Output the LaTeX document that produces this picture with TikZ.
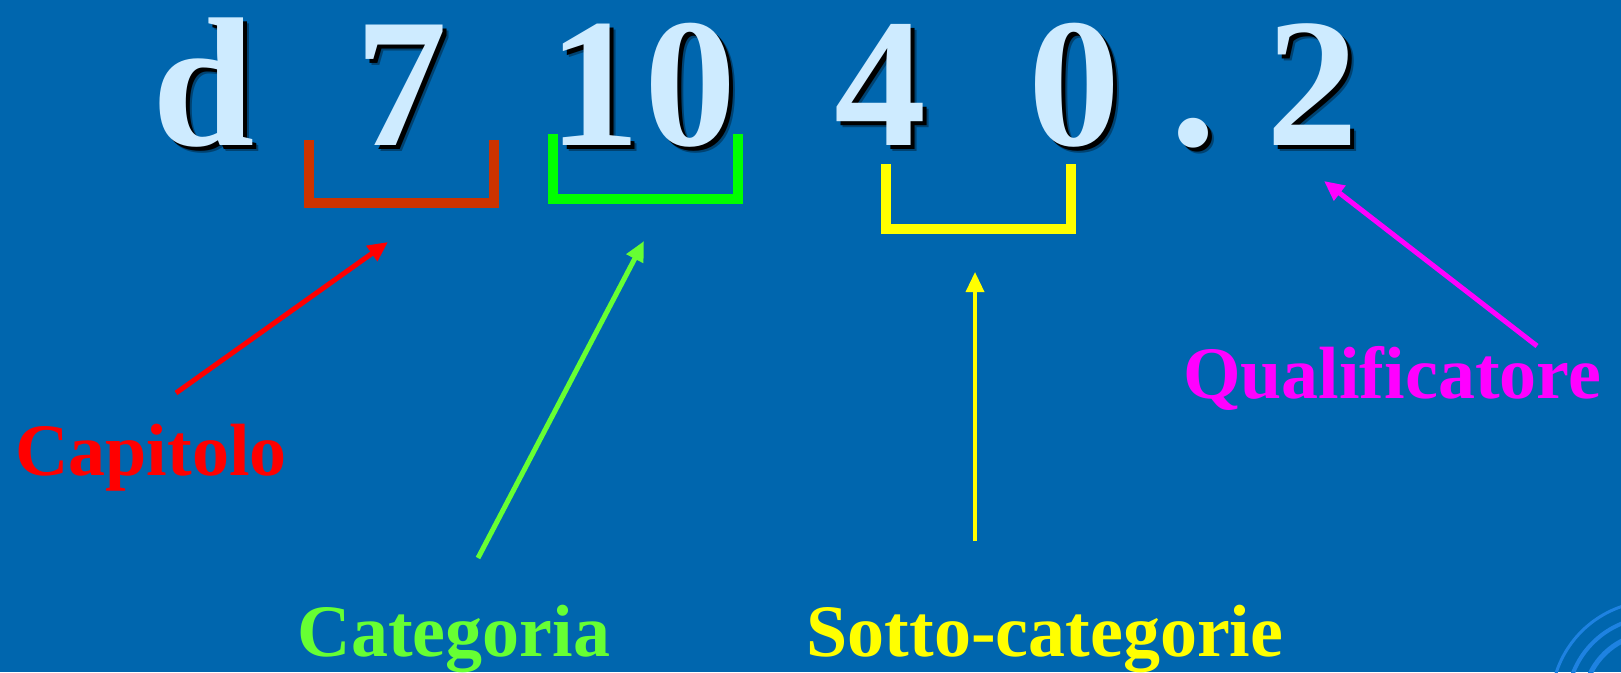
\documentclass[tikz,border=0pt]{standalone}
\usepackage{fontspec}
\setmainfont{Liberation Serif}
\usetikzlibrary{arrows.meta}
\definecolor{bg}{RGB}{0,102,174}
\definecolor{glyph}{RGB}{206,235,255}
\definecolor{cred}{RGB}{204,51,0}
\definecolor{cgreen}{RGB}{0,255,0}
\definecolor{cyel}{RGB}{255,255,0}
\definecolor{lred}{RGB}{255,0,0}
\definecolor{lgreen}{RGB}{102,255,51}
\definecolor{lmag}{RGB}{255,0,255}
\definecolor{swirl}{RGB}{30,130,225}
\tikzset{
  big/.style={anchor=base, inner sep=0pt, font=\fontsize{184}{190}\selectfont\bfseries},
  glyphtxt/.style={big, text=glyph},
  shadowtxt/.style={big, text=black},
  lab/.style={anchor=base, inner sep=0pt, font=\fontsize{74}{80}\selectfont\bfseries},
  brk/.style={line width=10pt, line join=miter},
  arr/.style={line width=5pt, -{Triangle[length=20pt,width=18pt]}},
}
\begin{document}
\begin{tikzpicture}[x=1pt,y=-1pt]
\fill[bg] (0,0) rectangle (1621,672);
\useasboundingbox (0,0) rectangle (1621,672);
% corner swirl
\begin{scope}
\clip (0,0) rectangle (1621,672);
\foreach \r/\w in {72/5,88/4,104/3}{
  \draw[swirl, line width=\w pt] (1655,705) ++(195:\r) arc[start angle=195,end angle=265,radius=\r];
}
\end{scope}
% big glyphs with soft shadow
\foreach \x/\t/\n in {204/d/gd,401/7/g7,594/1/g1,690/0/g0a,880/4/g4,1074/0/g0b,1193/./gdot,1312/2/g2}{
  \node[shadowtxt, text opacity=0.35] at (\x+6,151) {\t};
  \node[shadowtxt] at (\x+4,149) {\t};
  \node[glyphtxt] (\n) at (\x,145) {\t};
}
% brackets
\draw[brk, cred] (309,140) -- (309,203) -- (494,203) -- (494,140);
\draw[brk, cgreen] (553,134) -- (553,199) -- (738,199) -- (738,134);
\draw[brk, cyel] (886,164) -- (886,229) -- (1071,229) -- (1071,164);
% labels
\node[lab, text=lred] (cap) at (151,475) {Capitolo};
\node[lab, text=lgreen] (cat) at (454,656) {Categoria};
\node[lab, text=cyel] (sub) at (1045,656) {Sotto-categorie};
\node[lab, text=lmag] (qual) at (1392,398) {Qualificatore};
% arrow endpoints
\coordinate (capT) at (176,393);
\coordinate (capH) at (388,242);
\coordinate (catT) at (478,558);
\coordinate (catH) at (644,241);
\coordinate (subT) at (975,541);
\coordinate (subH) at (975,272);
\coordinate (qualT) at (1537,346);
\coordinate (qualH) at (1324,181);
\draw[arr, lred] (capT) -- (capH);
\draw[arr, lgreen] (catT) -- (catH);
\draw[arr, cyel, line width=3.5pt] (subT) -- (subH);
\draw[arr, lmag] (qualT) -- (qualH);
\end{tikzpicture}
\end{document}
